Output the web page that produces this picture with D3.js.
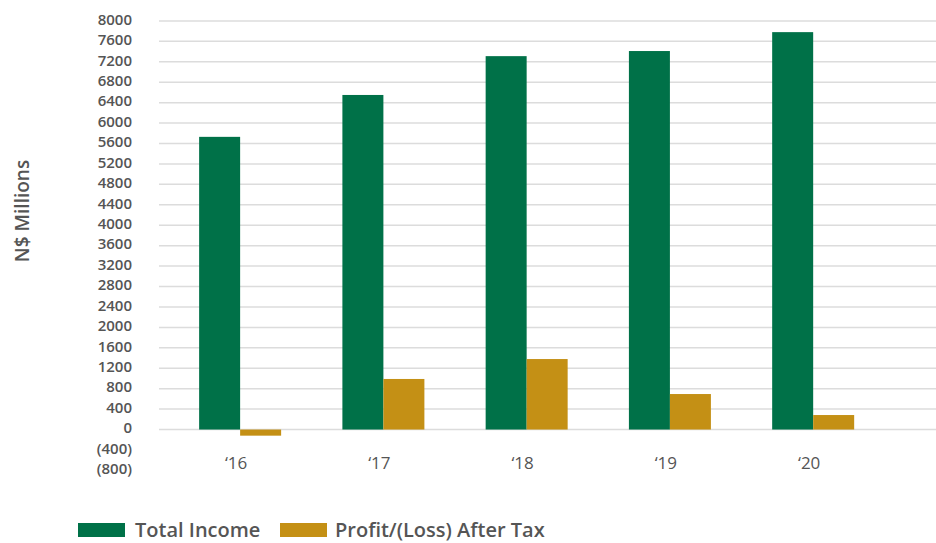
<!DOCTYPE html>
<html><head><meta charset="utf-8">
<script src="https://cdn.jsdelivr.net/npm/d3@7"></script>
<style>body{margin:0;background:#fff}svg{display:block}text{font-family:"Open Sans",Lato,sans-serif}</style>
</head><body>
<svg id="c" width="936" height="543"></svg>
<script>
const categories = ["‘16","‘17","‘18","‘19","‘20"];
const totalIncome = [5730, 6550, 7310, 7410, 7780];
const profitAfterTax = [-120, 990, 1380, 695, 284];
const seriesNames = ["Total Income","Profit/(Loss) After Tax"];
const seriesColors = ["#007148","#C49015"];
const yTicks = [-800,-400,0,400,800,1200,1600,2000,2400,2800,3200,3600,4000,4400,4800,5200,5600,6000,6400,6800,7200,7600,8000];

const svg = d3.select("#c");
const y = d3.scaleLinear().domain([-800, 8000]).range([470.4, 20.9]);
const x = d3.scalePoint().domain(categories).range([168.5, 884.8]).padding(0.5);
const barW = 41;
const gridX0 = 159, gridX1 = 936;

svg.append("g").selectAll("line").data(yTicks.filter(d => d >= 0)).join("line")
  .attr("x1", gridX0).attr("x2", gridX1)
  .attr("y1", d => y(d)).attr("y2", d => y(d))
  .attr("stroke", "#dcdcdc").attr("stroke-width", 1.5);

const yAxis = d3.axisLeft(y).tickValues(yTicks).tickSize(0).tickPadding(0)
  .tickFormat(d => d < 0 ? "(" + (-d) + ")" : String(d));
const ga = svg.append("g").attr("transform", "translate(132,-1.5)").call(yAxis);
ga.select(".domain").remove();
ga.selectAll("text").attr("fill", "#555").style("font-size", "15px").style("font-weight", "600")
  .style("font-family", "'Open Sans', sans-serif");

const series = [totalIncome, profitAfterTax];
series.forEach((vals, si) => {
  svg.append("g").selectAll("rect").data(vals).join("rect")
    .attr("x", (d, i) => x(categories[i]) - barW + si * barW)
    .attr("width", barW)
    .attr("y", d => y(Math.max(0, d)))
    .attr("height", d => Math.abs(y(d) - y(0)))
    .attr("fill", seriesColors[si]);
});

svg.append("g").selectAll("text").data(categories).join("text")
  .attr("x", d => x(d) - 4).attr("y", 469)
  .attr("text-anchor", "middle").attr("fill", "#555")
  .style("font-size", "17px").text(d => d);

svg.append("text").attr("transform", "translate(29,211) rotate(-90)")
  .attr("text-anchor", "middle").attr("fill", "#555")
  .style("font-size", "19px").style("font-weight", "600").text("N$ Millions");

const leg = [{x: 78, tx: 135}, {x: 280, tx: 335}];
seriesNames.forEach((n, i) => {
  svg.append("rect").attr("x", leg[i].x).attr("y", 523).attr("width", 47).attr("height", 14).attr("fill", seriesColors[i]);
  svg.append("text").attr("x", leg[i].tx).attr("y", 537).attr("fill", "#555")
    .style("font-size", "20px").style("font-weight", "600").text(n);
});
</script>
</body></html>
